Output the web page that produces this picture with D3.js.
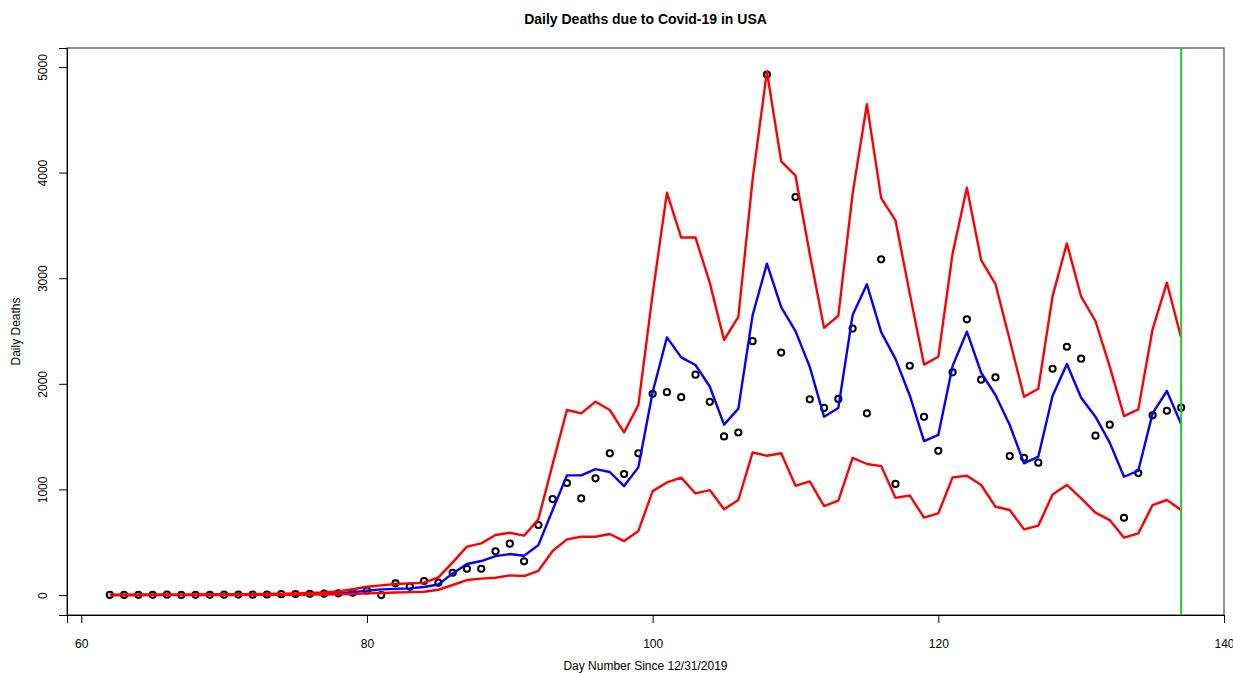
<!DOCTYPE html>
<html>
<head>
<meta charset="utf-8">
<script src="https://cdn.jsdelivr.net/npm/d3@7"></script>
<style>
  body { margin: 0; background: #fff; }
  svg { display: block; }
  text { font-family: "Liberation Sans", Arial, Helvetica, sans-serif; }
</style>
</head>
<body>
<svg id="chart" width="1233" height="673"></svg>
<script>
const days = [62,63,64,65,66,67,68,69,70,71,72,73,74,75,76,77,78,79,80,81,82,83,84,85,86,87,88,89,90,91,92,93,94,95,96,97,98,99,100,101,102,103,104,105,106,107,108,109,110,111,112,113,114,115,116,117,118,119,120,121,122,123,124,125,126,127,128,129,130,131,132,133,134,135,136,137];

const observed = [1,1,2,2,3,1,2,2,3,4,3,5,8,10,12,13,16,22,41,0,111,79,133,117,211,249,249,414,486,319,663,909,1061,915,1105,1342,1146,1342,1906,1921,1874,2087,1830,1502,1539,2404,4928,2296,3768,1853,1772,1857,2523,1721,3179,1052,2171,1688,1366,2109,2611,2039,2061,1316,1300,1253,2143,2351,2238,1509,1613,732,1155,1702,1745,1774];

const fitted = [1,1,1,2,2,2,2,3,3,3,4,5,6,8,10,13,18,28,41,54,58,63,76,100,205,294,322,369,388,372,473,805,1133,1133,1193,1165,1032,1209,1920,2440,2250,2178,1975,1614,1765,2651,3138,2726,2499,2161,1688,1772,2651,2942,2489,2236,1890,1457,1517,2169,2494,2105,1894,1610,1247,1310,1887,2188,1869,1689,1443,1120,1177,1720,1932,1619];

const upper = [2,2,3,3,4,4,5,5,6,7,8,10,12,15,19,25,35,55,79,92,104,110,117,167,309,458,489,568,590,562,717,1240,1752,1720,1831,1752,1540,1799,2850,3810,3385,3385,2956,2415,2634,3937,4958,4106,3971,3230,2530,2645,3801,4647,3758,3548,2854,2182,2256,3235,3857,3172,2945,2415,1878,1954,2831,3330,2825,2595,2162,1695,1758,2516,2958,2437];

const lower = [0,0,0,0,1,1,1,1,1,1,2,2,2,3,4,5,7,10,16,20,24,28,31,50,95,142,155,164,186,180,230,417,527,552,552,578,511,606,984,1066,1112,962,994,812,900,1350,1319,1343,1035,1076,842,893,1298,1241,1221,920,943,733,774,1114,1130,1042,836,805,622,657,953,1042,915,780,710,543,584,852,900,805];

const xTicks = [60, 80, 100, 120, 140];
const yTicks = [0, 1000, 2000, 3000, 4000, 5000];
const cutoffDay = 137;

const titleText = "Daily Deaths due to Covid-19 in USA";
const xLabel = "Day Number Since 12/31/2019";
const yLabel = "Daily Deaths";

const svg = d3.select("#chart");
const L = 67, R = 1224, T = 48, B = 615;

const x = d3.scaleLinear().domain([59, 140]).range([L, R]);
const y = d3.scaleLinear().domain([-189, 5180]).range([B, T]);

// box
svg.append("rect")
  .attr("x", L).attr("y", T).attr("width", R - L).attr("height", B - T)
  .attr("fill", "none").attr("stroke", "#555").attr("stroke-width", 1.3);

// x axis
const xAxis = svg.append("g").attr("transform", `translate(0,${B})`)
  .call(d3.axisBottom(x).tickValues(xTicks).tickSize(8).tickPadding(16).tickFormat(d3.format("d")));
xAxis.select(".domain").attr("stroke", "#000");
xAxis.selectAll("line").attr("stroke", "#000");
xAxis.selectAll("text").attr("font-size", 12).attr("fill", "#000");

// y axis
const yAxis = svg.append("g").attr("transform", `translate(${L},0)`)
  .call(d3.axisLeft(y).tickValues(yTicks).tickSize(8).tickFormat(d3.format("d")));
yAxis.select(".domain").attr("stroke", "#000");
yAxis.selectAll("line").attr("stroke", "#000");
yAxis.selectAll("text")
  .attr("font-size", 12).attr("fill", "#000")
  .attr("text-anchor", "middle")
  .attr("x", null).attr("dy", null)
  .attr("transform", "translate(-20,0) rotate(-90)");

// points
const pts = days.map((d, i) => ({ d, v: observed[i] }));
svg.append("g").selectAll("circle").data(pts).join("circle")
  .attr("cx", p => x(p.d)).attr("cy", p => y(p.v)).attr("r", 3.1)
  .attr("fill", "none").attr("stroke", "#000").attr("stroke-width", 2);

// lines
const line = d3.line().x(p => x(p.d)).y(p => y(p.v));
const series = [
  { vals: fitted, color: "#0000ff" },
  { vals: upper, color: "#ff0000" },
  { vals: lower, color: "#ff0000" }
];
series.forEach(s => {
  svg.append("path")
    .datum(days.map((d, i) => ({ d, v: s.vals[i] })))
    .attr("d", line).attr("fill", "none")
    .attr("stroke", s.color).attr("stroke-width", 2.4)
    .attr("stroke-linejoin", "round");
});

// cutoff line
svg.append("line")
  .attr("x1", x(cutoffDay)).attr("x2", x(cutoffDay))
  .attr("y1", T).attr("y2", B)
  .attr("stroke", "#22cc22").attr("stroke-width", 2);

// titles
svg.append("text").attr("x", (L + R) / 2).attr("y", 24)
  .attr("text-anchor", "middle").attr("font-size", 14).attr("font-weight", "bold")
  .text(titleText);
svg.append("text").attr("x", (L + R) / 2).attr("y", 670)
  .attr("text-anchor", "middle").attr("font-size", 12)
  .text(xLabel);
svg.append("text")
  .attr("transform", `translate(20,${(T + B) / 2}) rotate(-90)`)
  .attr("text-anchor", "middle").attr("font-size", 12)
  .text(yLabel);
</script>
</body>
</html>
